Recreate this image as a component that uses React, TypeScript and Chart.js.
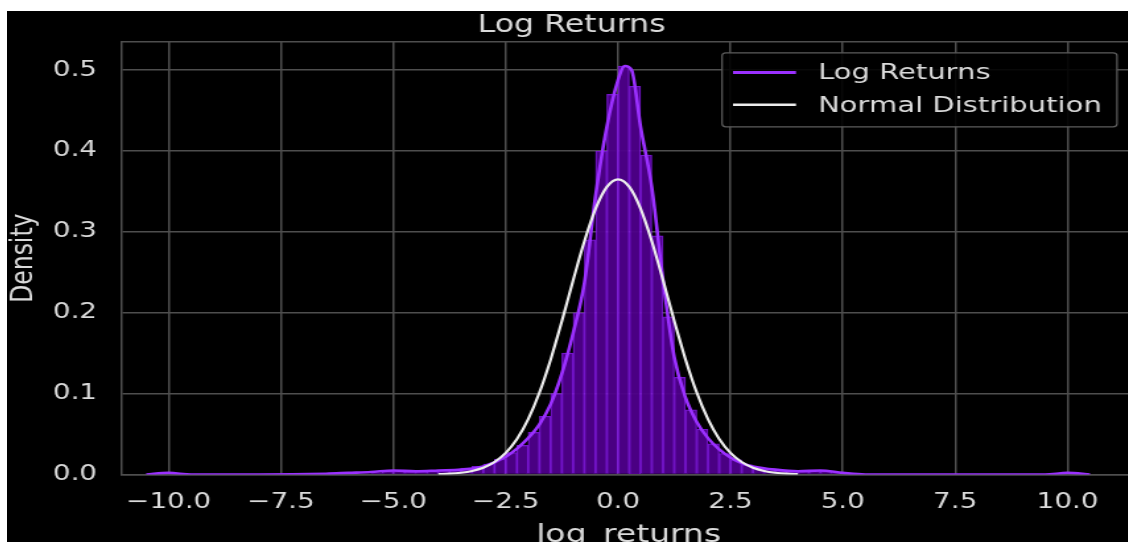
import React, { useEffect, useRef } from 'react';
import { Chart, registerables } from 'chart.js';

Chart.register(...registerables);

// ---- data ----
const X_TICKS = [-10, -7.5, -5, -2.5, 0, 2.5, 5, 7.5, 10];
const Y_TICKS = [0, 0.1, 0.2, 0.3, 0.4, 0.5];

// histogram (density) – bin centers (width 0.25) and heights
const HIST_CENTERS = [
  -10.125, -5.875, -5.375, -5.125, -4.875, -4.625, -4.375, -4.125, -3.875, -3.625, -3.375, -3.125,
  -2.875, -2.625, -2.375, -2.125, -1.875, -1.625, -1.375, -1.125, -0.875, -0.625, -0.375, -0.125,
  0.125, 0.375, 0.625, 0.875, 1.125, 1.375, 1.625, 1.875, 2.125, 2.375, 2.625, 2.875, 3.125,
  3.375, 3.625, 3.875, 4.125, 4.375, 4.625, 4.875, 10.125,
];
const HIST_DENSITY = [
  0.001, 0.001, 0.002, 0.004, 0.005, 0.003, 0.003, 0.004, 0.005, 0.006, 0.008, 0.010,
  0.013, 0.019, 0.027, 0.036, 0.052, 0.072, 0.100, 0.150, 0.200, 0.290, 0.400, 0.470,
  0.505, 0.480, 0.395, 0.295, 0.195, 0.120, 0.080, 0.056, 0.038, 0.026, 0.018, 0.012, 0.009,
  0.007, 0.005, 0.004, 0.004, 0.005, 0.004, 0.002, 0.001,
];

// KDE of log returns
const KDE_X = [
  -10.5, -10.0, -9.5, -8.0, -6.5, -6.0, -5.5, -5.0, -4.5, -4.0, -3.5, -3.0, -2.5, -2.25, -2.0,
  -1.75, -1.5, -1.25, -1.0, -0.75, -0.5, -0.25, 0.0, 0.15, 0.3, 0.5, 0.75, 1.0, 1.25, 1.5, 1.75,
  2.0, 2.25, 2.5, 2.75, 3.0, 3.5, 4.0, 4.5, 5.0, 5.5, 7.0, 9.5, 10.0, 10.5,
];
const KDE_Y = [
  0.000, 0.002, 0.000, 0.000, 0.001, 0.002, 0.003, 0.005, 0.004, 0.005, 0.006, 0.010, 0.022, 0.032, 0.045,
  0.062, 0.087, 0.125, 0.175, 0.237, 0.345, 0.430, 0.488, 0.505, 0.500, 0.430, 0.355, 0.240, 0.145, 0.095, 0.065,
  0.045, 0.031, 0.021, 0.014, 0.010, 0.006, 0.004, 0.005, 0.002, 0.000, 0.000, 0.000, 0.002, 0.000,
];

// fitted normal distribution
const NORMAL_X = [
  -4.0, -3.75, -3.5, -3.25, -3.0, -2.75, -2.5, -2.25, -2.0, -1.75, -1.5, -1.25, -1.0, -0.75, -0.5, -0.25,
  0.0, 0.25, 0.5, 0.75, 1.0, 1.25, 1.5, 1.75, 2.0, 2.25, 2.5, 2.75, 3.0, 3.25, 3.5, 3.75, 4.0,
];
const NORMAL_Y = [
  0.0005, 0.0010, 0.0022, 0.0044, 0.0084, 0.0154, 0.0267, 0.0438, 0.0684, 0.1013, 0.1423, 0.1898, 0.2402, 0.2884, 0.3288, 0.3556,
  0.3650, 0.3556, 0.3288, 0.2884, 0.2402, 0.1898, 0.1423, 0.1013, 0.0684, 0.0438, 0.0267, 0.0154, 0.0084, 0.0044, 0.0022, 0.0010, 0.0005,
];

const SERIES_LABELS = ['Log Returns', 'Normal Distribution'];

// ---- style ----
const FONT = "'DejaVu Sans', 'Liberation Sans', sans-serif";
const TEXT = '#dadada';
const GRID = '#4e4e4e';
const PURPLE = '#9b30ff';
const WHITE_LINE = '#ececec';
const STRETCH = 1.32;
const CW = 860;
const CH = 545;

const fmtX = (v: number) => (v < 0 ? '\u2212' : '') + Math.abs(v).toFixed(1);

const framePlugin = {
  id: 'frameAndLegend',
  beforeDatasetsDraw(chart: any) {
    const { ctx, chartArea: ca } = chart;
    ctx.save();
    ctx.strokeStyle = GRID;
    ctx.lineWidth = 1.5;
    ctx.beginPath();
    ctx.moveTo(ca.left, ca.top);
    ctx.lineTo(ca.right, ca.top);
    ctx.stroke();
    ctx.restore();
  },
  afterDraw(chart: any) {
    const { ctx, chartArea: ca } = chart;
    const left = ca.right - 313.8;
    const top = ca.top + 11;
    const w = 299.2;
    const h = 74;
    ctx.save();
    ctx.beginPath();
    (ctx as any).roundRect(left, top, w, h, 3);
    ctx.fillStyle = 'rgba(0,0,0,0.88)';
    ctx.fill();
    ctx.strokeStyle = '#5c5c5c';
    ctx.lineWidth = 1.2;
    ctx.stroke();
    const rows = [top + 19.7, top + 52];
    const colors = [PURPLE, WHITE_LINE];
    const widths = [3, 2.4];
    ctx.font = `22px ${FONT}`;
    ctx.textBaseline = 'middle';
    ctx.textAlign = 'left';
    rows.forEach((y, i) => {
      ctx.strokeStyle = colors[i];
      ctx.lineWidth = widths[i];
      ctx.beginPath();
      ctx.moveTo(left + 8.3, y);
      ctx.lineTo(left + 56, y);
      ctx.stroke();
      ctx.fillStyle = TEXT;
      ctx.fillText(SERIES_LABELS[i], left + 72.7, y + 1);
    });
    ctx.restore();
  },
};

export default function App() {
  const ref = useRef<HTMLCanvasElement | null>(null);

  useEffect(() => {
    if (!ref.current) return;
    Chart.defaults.font.family = FONT;
    const chart = new Chart(ref.current, {
      type: 'line',
      data: {
        datasets: [
          {
            type: 'line',
            label: SERIES_LABELS[1],
            data: NORMAL_X.map((x, i) => ({ x, y: NORMAL_Y[i] })),
            borderColor: WHITE_LINE,
            borderWidth: 2.2,
            pointRadius: 0,
            cubicInterpolationMode: 'monotone',
            order: 0,
          },
          {
            type: 'line',
            label: SERIES_LABELS[0],
            data: KDE_X.map((x, i) => ({ x, y: KDE_Y[i] })),
            borderColor: PURPLE,
            borderWidth: 2.6,
            pointRadius: 0,
            cubicInterpolationMode: 'monotone',
            order: 1,
          },
          {
            type: 'bar',
            label: 'hist',
            data: HIST_CENTERS.map((x, i) => ({ x, y: HIST_DENSITY[i] })),
            backgroundColor: 'rgba(78, 0, 138, 0.95)',
            borderColor: 'rgba(135, 25, 235, 0.85)',
            borderWidth: 1.2,
            barPercentage: 1,
            categoryPercentage: 1,
            grouped: false,
            order: 2,
          } as any,
        ],
      },
      options: {
        responsive: false,
        animation: false,
        events: [],
        devicePixelRatio: 1,
        layout: { padding: { left: 0, right: 4.5, top: 0, bottom: 0 } },
        plugins: {
          legend: { display: false },
          tooltip: { enabled: false },
          title: {
            display: true,
            text: 'Log Returns',
            color: TEXT,
            font: { size: 24, weight: 'normal', lineHeight: 1 },
            padding: { top: 0.5, bottom: 4.5 },
          },
        },
        scales: {
          x: {
            type: 'linear',
            min: -11.06,
            max: 11.53,
            offset: false,
            afterBuildTicks: (s: any) => {
              s.ticks = X_TICKS.map((v) => ({ value: v }));
            },
            afterFit: (s: any) => {
              s.height = CH - 463.5;
            },
            ticks: {
              callback: (v: any) => fmtX(Number(v)),
              color: TEXT,
              font: { size: 21 },
              padding: 15.9,
              maxRotation: 0,
              autoSkip: false,
            },
            grid: { color: GRID, lineWidth: 1.5, drawTicks: false, offset: false },
            border: { color: GRID, width: 1.5 },
            title: {
              display: true,
              text: 'log_returns',
              color: TEXT,
              font: { size: 25, lineHeight: 1.2 },
              padding: { top: 0, bottom: 6 },
            },
          },
          y: {
            type: 'linear',
            min: 0,
            max: 0.535,
            afterBuildTicks: (s: any) => {
              s.ticks = Y_TICKS.map((v) => ({ value: v }));
            },
            afterFit: (s: any) => {
              s.width = 86.4;
            },
            ticks: {
              callback: (v: any) => Number(v).toFixed(1),
              color: TEXT,
              font: { size: 21 },
              padding: 18.2,
            },
            grid: { color: GRID, lineWidth: 1.5, drawTicks: false },
            border: { color: GRID, width: 1.5 },
            title: {
              display: true,
              text: 'Density',
              color: TEXT,
              font: { size: 23.5, lineHeight: 1 },
              padding: { top: 1.15, bottom: 0 },
            },
          },
        },
      },
      plugins: [framePlugin],
    } as any);
    return () => chart.destroy();
  }, []);

  return (
    <div
      style={{
        position: 'fixed',
        left: 7,
        top: 11,
        width: 1121,
        height: 531,
        overflow: 'hidden',
        background: '#000',
      }}
    >
      <div style={{ transform: `scaleX(${STRETCH})`, transformOrigin: '0 0', width: CW, height: CH }}>
        <canvas ref={ref} width={CW} height={CH} style={{ display: 'block' }} />
      </div>
    </div>
  );
}
